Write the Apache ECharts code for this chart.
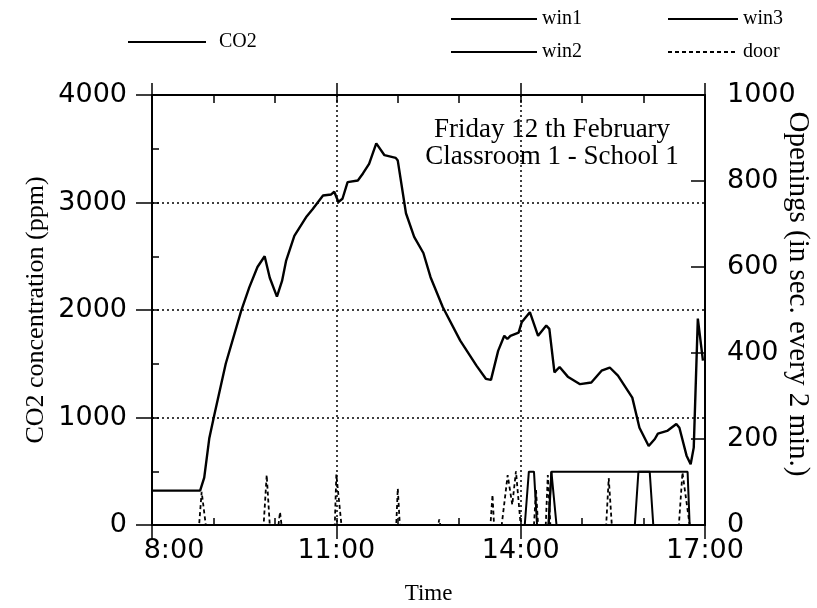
<!DOCTYPE html>
<html>
<head>
<meta charset="utf-8">
<script src="https://cdn.jsdelivr.net/npm/echarts@6/dist/echarts.min.js"></script>
<style>
  html, body { margin: 0; padding: 0; background: #fff; }
  #chart { width: 817px; height: 608px; }
</style>
</head>
<body>
<div id="chart"></div>
<script>
// ---- data (x = minutes after 8:00) ----
const xTicks = [0, 180, 360, 540];               // 8:00, 11:00, 14:00, 17:00
const co2Time = [0,47,51,56,61,72,87,95,103,110,115,122,127,131,139,151,157,167,175,178,182,186,191,201,206,212,219,227,238,240,248,256,265,272,284,301,317,326,331,338,344,347,350,358,361,369,377,385,388,393,398,406,418,429,439,447,455,469,476,485,491,494,503,512,515,522,526,529,533,538];
const co2Value = [320,320,440,810,1030,1500,1990,2210,2400,2500,2300,2125,2270,2460,2690,2870,2940,3065,3075,3100,3005,3035,3190,3205,3270,3360,3550,3440,3415,3390,2900,2680,2530,2305,2025,1715,1480,1360,1350,1620,1760,1730,1760,1790,1885,1980,1760,1855,1825,1420,1470,1380,1310,1325,1435,1465,1390,1185,905,735,800,850,875,940,905,645,565,720,1920,1530];

const win1Time = [0,364,368,373,376,471.5,475,486,489.5,540];
const win1Value = [0,0,124,124,0,0,124,124,0,0];
const win2Time = [0,387.5,390,523,525,540];
const win2Value = [0,0,124,124,0,0];
const win3Time = [0,387,390,395,540];
const win3Value = [0,0,124,0,0];
const doorTime = [0,46,48.5,52.5,109,112,115,123.5,125,126.5,178.5,180,185,238.5,240,242,279.5,280.5,281.5,330.5,332.5,334,341.5,347.3,351.8,355.4,360,373,375,377,384.5,386.5,389,443.5,446,449,514.5,518,525,540];
const doorValue = [0,0,77,0,0,116,0,0,30,0,0,118,0,0,85,0,0,13,0,0,70,0,0,116,47,125,0,0,81,0,0,116,0,0,109,0,0,122,0,0];

const zip = (t, v) => t.map((x, i) => [x, v[i]]);

const SANS = '"DejaVu Sans"';
const SERIF = '"Liberation Serif", "Times New Roman", serif';
const black = '#000';

const chart = echarts.init(document.getElementById('chart'), null, { renderer: 'canvas' });

const gridDot = { show: true, lineStyle: { color: black, type: [2, 3], width: 1.5 } };
const legendCommon = { padding: 0, itemHeight: 20, itemGap: 13, itemStyle: { opacity: 0 },
  textStyle: { fontFamily: SERIF, fontSize: 20, color: black } };

const option = {
  animation: false,
  backgroundColor: '#fff',
  grid: { left: 152, right: 112, top: 95, bottom: 83, containLabel: false, outerBoundsMode: 'none' },
  legend: [
    Object.assign({}, legendCommon, { data: ['CO2'], left: 127, top: 32, itemWidth: 78,
      textStyle: { fontFamily: SERIF, fontSize: 20, color: black, padding: [0, 0, 0, 8] } }),
    Object.assign({}, legendCommon, { data: ['win1', 'win2'], orient: 'vertical', left: 450, top: 9, itemWidth: 86 }),
    Object.assign({}, legendCommon, { data: ['win3', 'door'], orient: 'vertical', left: 667, top: 9, itemWidth: 70 })
  ],
  xAxis: [
    { type: 'value', min: 0, max: 540, interval: 180, position: 'bottom',
      name: 'Time', nameLocation: 'middle', nameGap: 57, nameMoveOverlap: false,
      nameTextStyle: { fontFamily: SERIF, fontSize: 23, color: black },
      axisLine: { show: true, onZero: false, lineStyle: { color: black, width: 2 } },
      axisTick: { show: true, inside: false, length: 14, lineStyle: { color: black, width: 1.5 } },
      axisLabel: { margin: 12, color: black, fontFamily: SANS, fontSize: 27,
        formatter: v => { const s = (8 + v / 60) + ':00'; return v === 0 ? '{f|' + s + '}' : s; },
        rich: { f: { fontFamily: SANS, fontSize: 27, color: black, padding: [0, 0, 0, 44] } } },
      splitLine: gridDot },
    { type: 'value', min: 0, max: 540, interval: 60, position: 'bottom',
      axisLine: { show: false, onZero: false }, axisLabel: { show: false }, splitLine: { show: false },
      axisTick: { show: true, inside: true, length: 7, lineStyle: { color: black, width: 1.5 } } },
    { type: 'value', min: 0, max: 540, interval: 180, position: 'top',
      axisLine: { show: true, onZero: false, lineStyle: { color: black, width: 2 } },
      axisLabel: { show: false }, splitLine: { show: false },
      axisTick: { show: true, inside: false, length: 12, lineStyle: { color: black, width: 1.5 } } },
    { type: 'value', min: 0, max: 540, interval: 60, position: 'top',
      axisLine: { show: false, onZero: false }, axisLabel: { show: false }, splitLine: { show: false },
      axisTick: { show: true, inside: true, length: 8, lineStyle: { color: black, width: 1.5 } } }
  ],
  yAxis: [
    { type: 'value', min: 0, max: 4000, interval: 1000, position: 'left',
      name: 'CO2 concentration (ppm)', nameLocation: 'middle', nameGap: 103, nameRotate: 90, nameMoveOverlap: false,
      nameTextStyle: { fontFamily: SERIF, fontSize: 26, color: black },
      axisLine: { show: true, onZero: false, lineStyle: { color: black, width: 2 } },
      axisTick: { show: true, inside: false, length: 16, lineStyle: { color: black, width: 1.5 } },
      axisLabel: { margin: 25, color: black, fontFamily: SANS, fontSize: 27, formatter: v => String(v) },
      splitLine: gridDot },
    { type: 'value', min: 0, max: 4000, interval: 500, position: 'left',
      axisLine: { show: false, onZero: false }, axisLabel: { show: false }, splitLine: { show: false },
      axisTick: { show: true, inside: true, length: 7, lineStyle: { color: black, width: 1.5 } } },
    { type: 'value', min: 0, max: 1000, interval: 200, position: 'right',
      name: 'Openings (in sec. every 2 min.)', nameLocation: 'middle', nameGap: 78, nameRotate: -90, nameMoveOverlap: false,
      nameTextStyle: { fontFamily: SERIF, fontSize: 29, color: black, padding: [0, 32, 0, 0] },
      axisLine: { show: true, onZero: false, lineStyle: { color: black, width: 2 } },
      axisTick: { show: true, inside: true, length: 14, lineStyle: { color: black, width: 1.5 } },
      axisLabel: { margin: 22, color: black, fontFamily: SANS, fontSize: 27, formatter: v => String(v) },
      splitLine: { show: false } }
  ],
  graphic: [
    { type: 'text', x: 552, y: 143, z: 10,
      style: { text: 'Friday 12 th February\nClassroom 1 - School 1', textAlign: 'center', textVerticalAlign: 'middle',
        font: '27px "Liberation Serif"', lineHeight: 27, fill: black } }
  ],
  series: [
    { name: 'door', type: 'line', xAxisIndex: 0, yAxisIndex: 2, symbol: 'none', z: 3,
      lineStyle: { color: black, width: 1.8, type: [4, 3] }, itemStyle: { color: black },
      data: zip(doorTime, doorValue) },
    { name: 'win1', type: 'line', xAxisIndex: 0, yAxisIndex: 2, symbol: 'none', z: 4,
      lineStyle: { color: black, width: 2 }, itemStyle: { color: black },
      data: zip(win1Time, win1Value) },
    { name: 'win2', type: 'line', xAxisIndex: 0, yAxisIndex: 2, symbol: 'none', z: 4,
      lineStyle: { color: black, width: 2 }, itemStyle: { color: black },
      data: zip(win2Time, win2Value) },
    { name: 'win3', type: 'line', xAxisIndex: 0, yAxisIndex: 2, symbol: 'none', z: 4,
      lineStyle: { color: black, width: 2 }, itemStyle: { color: black },
      data: zip(win3Time, win3Value) },
    { name: 'CO2', type: 'line', xAxisIndex: 0, yAxisIndex: 0, symbol: 'none', z: 5,
      lineStyle: { color: black, width: 2.4 }, itemStyle: { color: black },
      data: zip(co2Time, co2Value) }
  ]
};
chart.setOption(option);
</script>
</body>
</html>
